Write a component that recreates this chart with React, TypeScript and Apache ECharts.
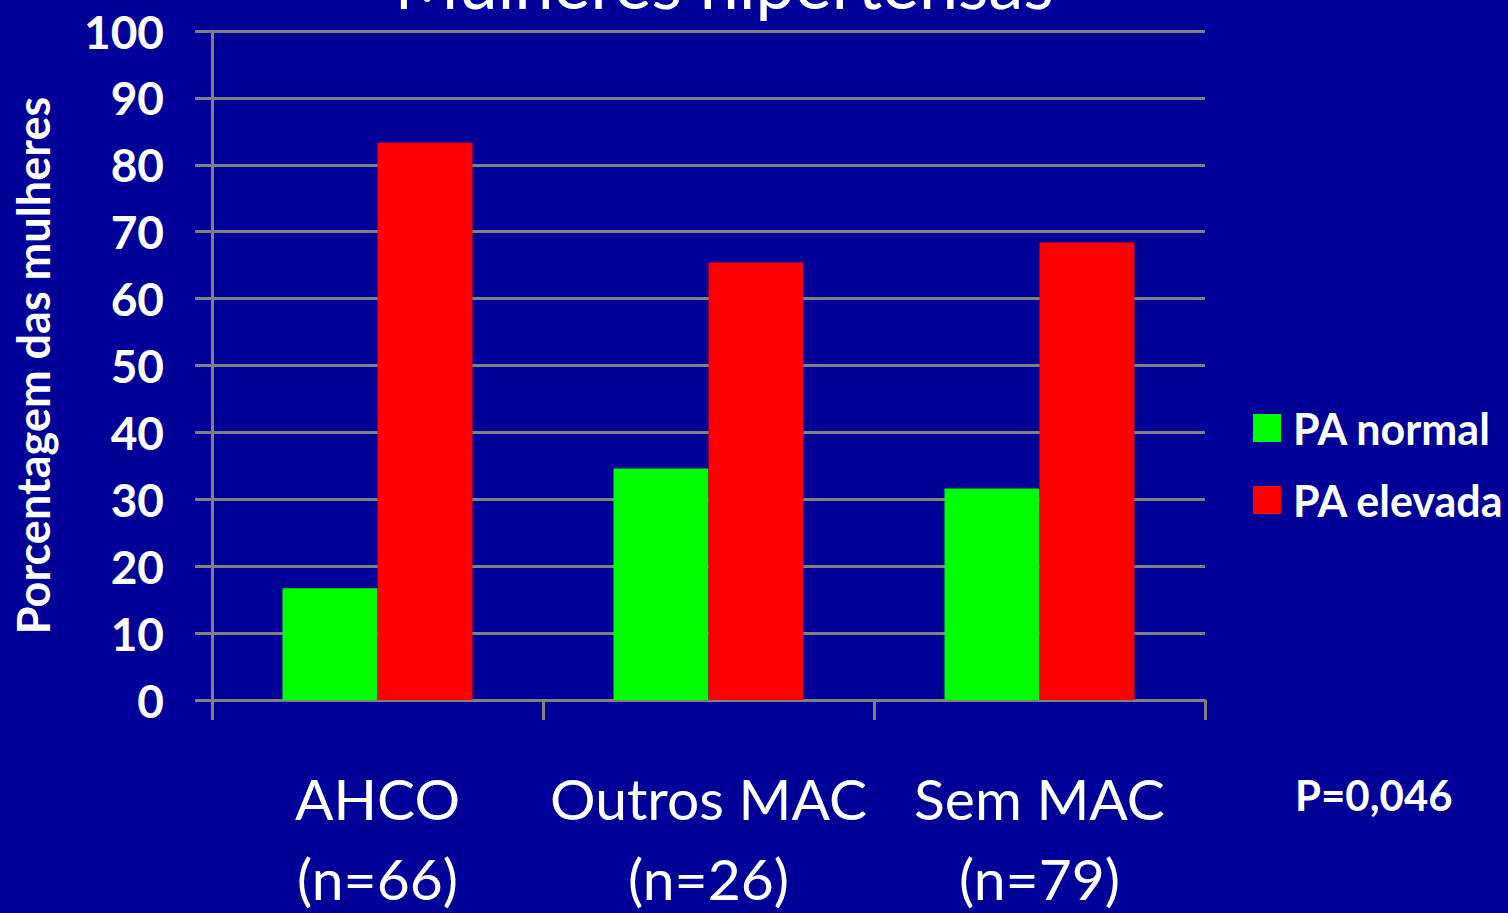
import React, { useEffect, useRef } from "react";
import * as echarts from "echarts";

const categories = ["AHCO\n(n=66)", "Outros MAC\n(n=26)", "Sem MAC\n(n=79)"];
const paNormal = [16.7, 34.6, 31.6];
const paElevada = [83.3, 65.4, 68.4];
const seriesNames = ["PA normal", "PA elevada"];
const titleText = "Mulheres hipertensas";
const yAxisTitle = "Porcentagem das mulheres";
const pValueText = "P=0,046";

export default function App() {
  const ref = useRef<HTMLDivElement>(null);
  useEffect(() => {
    if (!ref.current) return;
    const chart = echarts.init(ref.current, null, { renderer: "svg" });
    const font = "Lato, 'Open Sans', sans-serif";
    chart.setOption({
      animation: false,
      backgroundColor: "#000099",
      textStyle: { fontFamily: font, color: "#ffffff" },
      grid: {
        left: 212,
        right: 303,
        top: 31,
        bottom: 213,
        containLabel: false,
        outerBoundsMode: "none",
      },
      legend: {
        orient: "vertical",
        left: 1248,
        top: 401,
        itemWidth: 28,
        itemHeight: 28,
        itemGap: 28,
        icon: "rect",
        textStyle: {
          color: "#ffffff",
          fontSize: 43,
          lineHeight: 44,
          fontWeight: "bold",
          fontFamily: font,
          padding: [0, 0, 0, 7],
        },
        data: seriesNames,
      },
      xAxis: {
        type: "category",
        data: categories,
        axisLine: { lineStyle: { color: "#808080", width: 3 } },
        axisTick: { show: true, length: 20, lineStyle: { color: "#808080", width: 3 } },
        axisLabel: {
          color: "#ffffff",
          fontSize: 57,
          fontFamily: font,
          lineHeight: 80,
          margin: 58,
          interval: 0,
        },
      },
      yAxis: {
        type: "value",
        min: 0,
        max: 100,
        interval: 10,
        name: yAxisTitle,
        nameLocation: "middle",
        nameGap: 157,
        nameTextStyle: { color: "#ffffff", fontSize: 45, fontWeight: "bold", fontFamily: font },
        axisLine: { show: true, lineStyle: { color: "#808080", width: 3 } },
        axisTick: { show: true, length: 17, lineStyle: { color: "#808080", width: 3 } },
        splitLine: { show: true, lineStyle: { color: "#808080", width: 3 } },
        axisLabel: { color: "#ffffff", fontSize: 46, fontWeight: "bold", fontFamily: font, margin: 48 },
      },
      series: [
        {
          name: seriesNames[0],
          type: "bar",
          data: paNormal,
          barWidth: 95,
          barGap: "0%",
          itemStyle: { color: "#00ff00" },
        },
        {
          name: seriesNames[1],
          type: "bar",
          data: paElevada,
          barWidth: 95,
          barGap: "0%",
          itemStyle: { color: "#ff0000" },
        },
      ],
      graphic: [
        {
          type: "text",
          x: 724,
          y: 17,
          style: {
            text: titleText,
            fill: "#ffffff",
            font: `70px ${font}`,
            textAlign: "center",
            textVerticalAlign: "bottom",
          },
        },
        {
          type: "text",
          x: 1295,
          y: 795,
          style: {
            text: pValueText,
            fill: "#ffffff",
            font: `bold 42px ${font}`,
            textAlign: "left",
            textVerticalAlign: "middle",
          },
        },
      ],
    });
    return () => chart.dispose();
  }, []);
  return (
    <div
      ref={ref}
      style={{ position: "absolute", left: 0, top: 0, width: 1508, height: 913 }}
    />
  );
}
